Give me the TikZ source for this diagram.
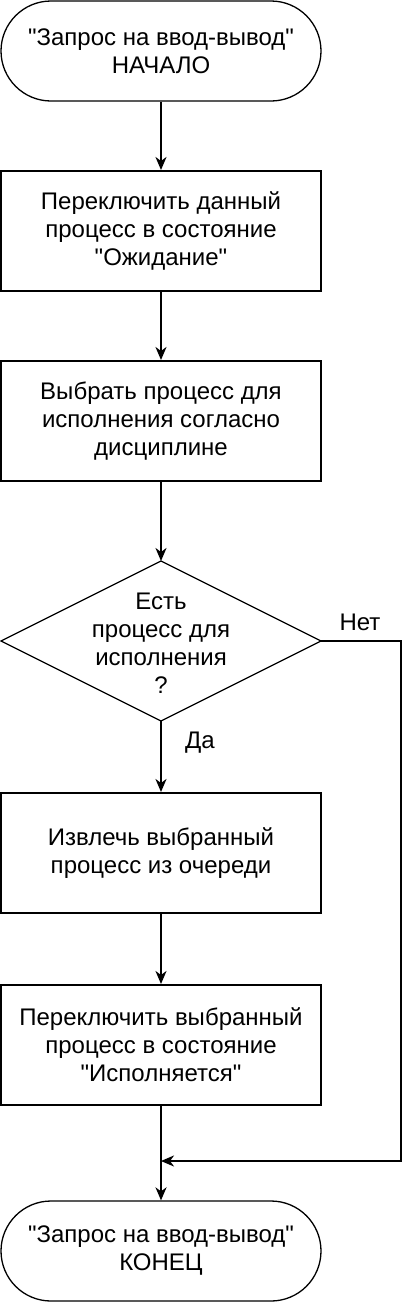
\documentclass[tikz,border=0pt]{standalone}
\usepackage{fontspec}
\setmainfont{Liberation Sans}[Ligatures=TeXOff]
\usetikzlibrary{arrows.meta}
\begin{document}
\begin{tikzpicture}[x=1pt,y=-1pt,
  txt/.style={font=\fontsize{24}{28}\selectfont, align=center, text=black},
  procbox/.style={txt, draw, line width=2pt, minimum width=320pt, minimum height=120pt, inner sep=0pt},
  term/.style={txt, draw, line width=1.3pt, rounded corners=50pt, minimum width=320pt, minimum height=100pt, inner sep=0pt},
  conn/.style={line width=2pt, -{Stealth[length=13pt,width=11pt,inset=4pt]}},
  lbl/.style={font=\fontsize{24}{28}\selectfont, text=black}
]
\useasboundingbox (0,0) rectangle (418,1302);
\node[term] (start) at (161,51) {"Запрос на ввод-вывод"\\НАЧАЛО};
\node[procbox] (b1) at (161,231) {Переключить данный\\процесс в состояние\\"Ожидание"};
\node[procbox] (b2) at (161,421) {Выбрать процесс для\\исполнения согласно\\дисциплине};
% diamond
\coordinate (dt) at (161,561);
\coordinate (db) at (161,721);
\coordinate (dl) at (1,641);
\coordinate (dr) at (321,641);
\draw[line width=1.3pt, line join=miter] (dt) -- (dr) -- (db) -- (dl) -- cycle;
\node[txt] (dtext) at (161,643) {Есть\\процесс для\\исполнения\\?};
\node[procbox] (b3) at (161,853) {Извлечь выбранный\\процесс из очереди};
\node[procbox] (b4) at (161,1045) {Переключить выбранный\\процесс в состояние\\"Исполняется"};
\node[term] (end) at (161,1251) {"Запрос на ввод-вывод"\\КОНЕЦ};
\coordinate (merge) at (161,1161);
\coordinate (nr) at (401,641);

\draw[conn] (start) -- (b1);
\draw[conn] (b1) -- (b2);
\draw[conn] (b2) -- (dt);
\draw[conn] (db) -- (b3);
\node[lbl] (yes) at (200,743) {Да};
\draw[conn] (b3) -- (b4);
\draw[conn] (b4) -- (end);
\draw[conn] (dr) -- (nr) |- (merge);
\node[lbl] (no) at (360,622) {Нет};
\end{tikzpicture}
\end{document}
